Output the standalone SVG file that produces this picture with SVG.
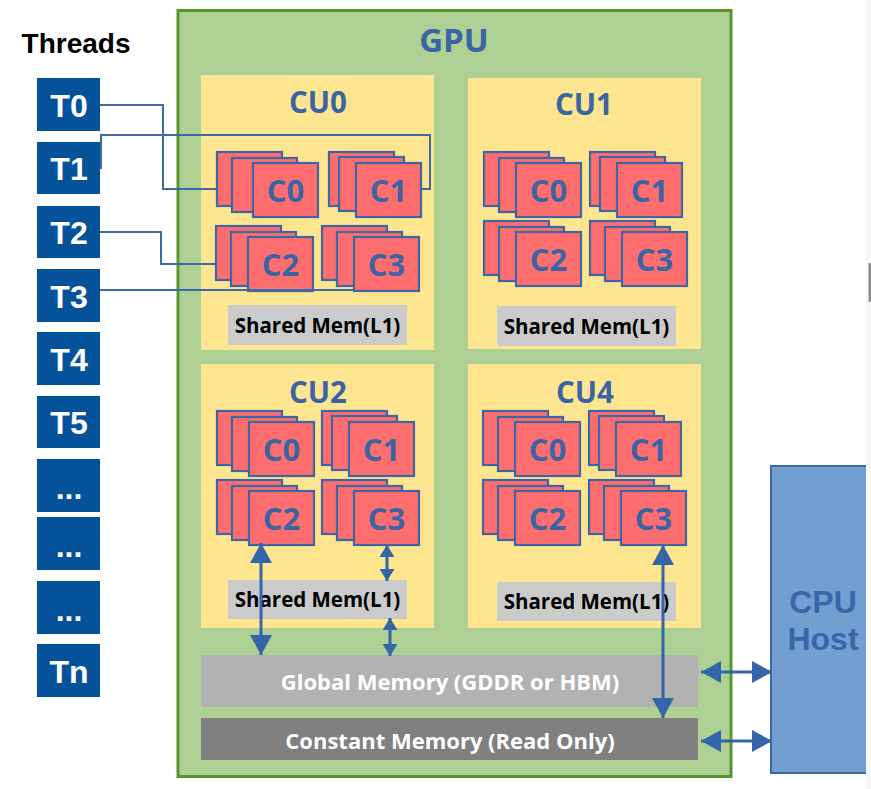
<svg xmlns="http://www.w3.org/2000/svg" xmlns:xlink="http://www.w3.org/1999/xlink" width="871" height="789" viewBox="0 0 871 789">
<style>
.thr{fill:#03529a}
.thrt{fill:#ffffff;font-family:"Liberation Sans",Arial,sans-serif;font-weight:bold;font-size:32px;text-anchor:middle}
.cu{fill:#fee690}
.cul{fill:#3b64a4;font-family:"Open Sans","Noto Sans",sans-serif;font-weight:bold;font-size:29.5px;text-anchor:middle}
.core{fill:#ff6e6e;stroke:#3c66a6;stroke-width:2.2}
.corel{fill:#3b64a4;font-family:"Open Sans","Noto Sans",sans-serif;font-weight:bold;font-size:31px;text-anchor:middle}
.sm{fill:#cbcbcb}
.smt{fill:#000000;font-family:"Open Sans","Noto Sans",sans-serif;font-weight:bold;font-size:20.5px;text-anchor:middle}
.memt{fill:#ffffff;font-family:"Open Sans","Noto Sans",sans-serif;font-weight:bold;font-size:22px;text-anchor:middle}
.wire{fill:none;stroke:#3d6aab;stroke-width:2}
.arr{fill:none;stroke:#3465a8;stroke-width:3}
</style>
<defs>
<marker id="big" viewBox="0 0 20 22" markerWidth="20" markerHeight="22" refX="20" refY="11" orient="auto-start-reverse" markerUnits="userSpaceOnUse">
<path d="M0,0 L20,11 L0,22 z" fill="#3465a8"/>
</marker>
<marker id="small" viewBox="0 0 12 15" markerWidth="12" markerHeight="15" refX="12" refY="7.5" orient="auto-start-reverse" markerUnits="userSpaceOnUse">
<path d="M0,0 L12,7.5 L0,15 z" fill="#3465a8"/>
</marker>
<g id="stackA">
<rect class="core" x="0" y="0" width="65" height="54"/>
<rect class="core" x="15" y="6" width="65" height="54"/>
<rect class="core" x="32" y="11" width="65" height="54"/>
</g>
<g id="stackB">
<rect class="core" x="0" y="0" width="65" height="54"/>
<rect class="core" x="10" y="5" width="65" height="54"/>
<rect class="core" x="27" y="11" width="65" height="54"/>
</g>
<g id="stackC">
<rect class="core" x="0" y="0" width="65" height="54"/>
<rect class="core" x="15" y="6" width="65" height="54"/>
<rect class="core" x="36" y="11" width="65" height="54"/>
</g>
</defs>
<rect x="0" y="0" width="871" height="789" fill="#ffffff"/>

<g id="threads">
<text x="76" y="53" text-anchor="middle" font-family="Liberation Sans,Arial,sans-serif" font-weight="bold" font-size="28" fill="#000000">Threads</text>
</g>
<g id="t0"><rect class="thr" x="37" y="78" width="63" height="53"/><text class="thrt" x="69" y="117">T0</text></g>
<g id="t1"><rect class="thr" x="37" y="142" width="63" height="52"/><text class="thrt" x="69" y="180">T1</text></g>
<g id="t2"><rect class="thr" x="37" y="206" width="63" height="52"/><text class="thrt" x="69" y="244">T2</text></g>
<g id="t3"><rect class="thr" x="37" y="269" width="63" height="53"/><text class="thrt" x="69" y="308">T3</text></g>
<g id="t4"><rect class="thr" x="37" y="332" width="63" height="53"/><text class="thrt" x="69" y="371">T4</text></g>
<g id="t5"><rect class="thr" x="37" y="396" width="63" height="52"/><text class="thrt" x="69" y="434">T5</text></g>
<g id="tdots1"><rect class="thr" x="37" y="459" width="63" height="53"/><text class="thrt" x="69" y="499">...</text></g>
<g id="tdots2"><rect class="thr" x="37" y="517" width="63" height="53"/><text class="thrt" x="69" y="557">...</text></g>
<g id="tdots3"><rect class="thr" x="37" y="581" width="63" height="53"/><text class="thrt" x="69" y="621">...</text></g>
<g id="tn"><rect class="thr" x="37" y="644" width="63" height="53"/><text class="thrt" x="69" y="683">Tn</text></g>

<g id="gpu">
<rect x="178" y="10.5" width="553" height="766" fill="#aed094" stroke="#5a962e" stroke-width="3"/>
<text x="454" y="52" text-anchor="middle" font-family="Open Sans,Noto Sans,sans-serif" font-weight="bold" font-size="33" fill="#3b64a4">GPU</text>
</g>

<g id="cu0">
<rect class="cu" x="201" y="75" width="233" height="275"/>
<text class="cul" x="318" y="113">CU0</text>
<rect class="sm" x="228" y="305" width="179" height="40"/>
<text class="smt" x="317.5" y="333">Shared Mem(L1)</text>
</g>
<g id="cu1">
<rect class="cu" x="468" y="78" width="233" height="271"/>
<text class="cul" x="584" y="115">CU1</text>
<rect class="sm" x="497" y="306" width="179" height="40"/>
<text class="smt" x="586.5" y="334">Shared Mem(L1)</text>
</g>
<g id="cu2">
<rect class="cu" x="201" y="364" width="233" height="264"/>
<text class="cul" x="318" y="403">CU2</text>
<rect class="sm" x="228" y="580" width="179" height="39"/>
<text class="smt" x="317.5" y="607">Shared Mem(L1)</text>
</g>
<g id="cu4">
<rect class="cu" x="468" y="364" width="233" height="264"/>
<text class="cul" x="585" y="403">CU4</text>
<rect class="sm" x="497" y="582" width="179" height="39"/>
<text class="smt" x="586.5" y="609">Shared Mem(L1)</text>
</g>

<g id="cu0-c0"><use href="#stackC" x="217" y="152"/><text class="corel" x="285.5" y="202">C0</text></g>
<g id="cu0-c1"><use href="#stackB" x="329" y="152"/><text class="corel" x="388.5" y="202">C1</text></g>
<g id="cu0-c2"><use href="#stackA" x="216" y="226"/><text class="corel" x="280.5" y="276">C2</text></g>
<g id="cu0-c3"><use href="#stackA" x="322" y="226"/><text class="corel" x="386.5" y="276">C3</text></g>

<g id="cu1-c0"><use href="#stackA" x="484" y="152"/><text class="corel" x="548.5" y="202">C0</text></g>
<g id="cu1-c1"><use href="#stackB" x="590" y="152"/><text class="corel" x="649.5" y="202">C1</text></g>
<g id="cu1-c2"><use href="#stackA" x="484" y="221"/><text class="corel" x="548.5" y="271">C2</text></g>
<g id="cu1-c3"><use href="#stackA" x="590" y="221"/><text class="corel" x="654.5" y="271">C3</text></g>

<g id="cu2-c0"><use href="#stackA" x="217" y="411"/><text class="corel" x="281.5" y="461">C0</text></g>
<g id="cu2-c1"><use href="#stackB" x="322" y="411"/><text class="corel" x="381.5" y="461">C1</text></g>
<g id="cu2-c2"><use href="#stackA" x="217" y="480"/><text class="corel" x="281.5" y="530">C2</text></g>
<g id="cu2-c3"><use href="#stackA" x="322" y="480"/><text class="corel" x="386.5" y="530">C3</text></g>

<g id="cu4-c0"><use href="#stackA" x="483" y="411"/><text class="corel" x="547.5" y="461">C0</text></g>
<g id="cu4-c1"><use href="#stackB" x="589" y="411"/><text class="corel" x="648.5" y="461">C1</text></g>
<g id="cu4-c2"><use href="#stackA" x="483" y="480"/><text class="corel" x="547.5" y="530">C2</text></g>
<g id="cu4-c3"><use href="#stackA" x="589" y="480"/><text class="corel" x="653.5" y="530">C3</text></g>

<g id="global-mem">
<rect x="201" y="655" width="497" height="52" fill="#b2b2b2"/>
<text class="memt" x="450" y="690">Global Memory (GDDR or HBM)</text>
</g>
<g id="constant-mem">
<rect x="201" y="718" width="497" height="42" fill="#808080"/>
<text class="memt" x="450" y="749">Constant Memory (Read Only)</text>
</g>

<g id="cpu-host">
<rect x="771" y="466" width="110" height="307" fill="#729fcf" stroke="#3c69a7" stroke-width="2"/>
<text x="823" y="613" text-anchor="middle" font-family="Liberation Sans,Arial,sans-serif" font-weight="bold" font-size="32" fill="#3a66a8">CPU</text>
<text x="823" y="650" text-anchor="middle" font-family="Liberation Sans,Arial,sans-serif" font-weight="bold" font-size="32" fill="#3a66a8">Host</text>
</g>

<g id="connectors">
<path class="wire" d="M100,105 H163 V189 H217"/>
<path class="wire" d="M101,169 V135 H430 V189 H421"/>
<path class="wire" d="M100,232 H161 V264 H216"/>
<path class="wire" d="M100,290 H354"/>
<line class="arr" x1="261" y1="543" x2="261" y2="655" marker-start="url(#big)" marker-end="url(#big)"/>
<line class="arr" x1="387" y1="545" x2="387" y2="581" marker-start="url(#small)" marker-end="url(#small)"/>
<line class="arr" x1="390" y1="618" x2="390" y2="656" marker-start="url(#small)" marker-end="url(#small)"/>
<line class="arr" x1="663" y1="545" x2="663" y2="718" marker-start="url(#big)" marker-end="url(#big)"/>
<line class="arr" x1="701" y1="672" x2="772" y2="672" marker-start="url(#big)" marker-end="url(#big)"/>
<line class="arr" x1="701" y1="741" x2="772" y2="741" marker-start="url(#big)" marker-end="url(#big)"/>
</g>

<rect x="866" y="0" width="5" height="789" fill="#f8f8f8"/>
<rect x="868.5" y="263" width="2.5" height="39" rx="1" fill="#8c8c8c"/>
</svg>
